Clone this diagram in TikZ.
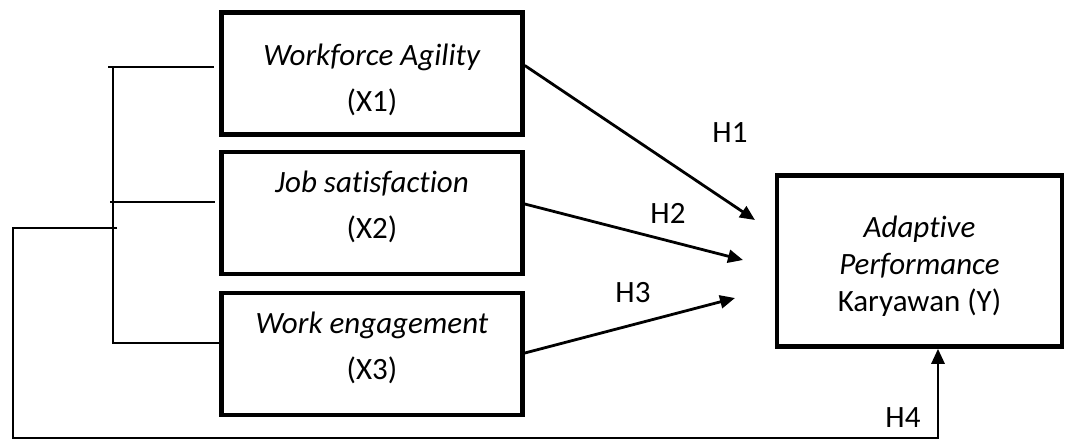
\documentclass[tikz,border=0pt]{standalone}
\usepackage{fontspec}
\setmainfont{Carlito}[Ligatures=CommonOff]
\usetikzlibrary{arrows.meta}

\begin{document}
\begin{tikzpicture}[x=0.5pt,y=-0.5pt,
  varbox/.style={draw,line width=2.3pt,minimum width=150.5pt,minimum height=61pt,inner sep=0pt},
  vartext/.style={align=center,inner sep=0pt,font=\fontsize{15.5}{23}\selectfont},
  link/.style={line width=1.4pt},
  arrowline/.style={line width=1.4pt,-{Triangle[length=7.5pt,width=6.5pt]}},
  hlabel/.style={font=\fontsize{15.5}{18}\selectfont}]
  \useasboundingbox (0,0) rectangle (1067,441);
  % variables
  \node[varbox] (X1) at (372,73.5) {};
  \node[varbox] (X2) at (372,213) {};
  \node[varbox] (X3) at (372,354) {};
  \node[varbox,minimum width=142.5pt,minimum height=85.5pt] (Y) at (919.5,261) {};
  \node[vartext] (X1t) at ([yshift=-3pt]X1.center) {\textit{Workforce Agility}\\(X1)};
  \node[vartext] (X2t) at ([yshift=3pt]X2.center) {\textit{Job satisfaction}\\(X2)};
  \node[vartext] (X3t) at ([yshift=3pt]X3.center) {\textit{Work engagement}\\(X3)};
  \node[vartext,font=\fontsize{15.5}{18.5}\selectfont] (Yt) at ([yshift=-2.5pt]Y.center) {\textit{Adaptive}\\\textit{Performance}\\Karyawan (Y)};
  % bracket on the left
  \coordinate (j0) at (113,67);
  \coordinate (j1) at (108,67);
  \coordinate (j2) at (110,202);
  \coordinate (j3) at (113,343);
  \coordinate (m1) at (117,228);
  \coordinate (m2) at (13,228);
  \coordinate (m3) at (13,438);
  \coordinate (m4) at (938,438);
  \draw[link,shorten >=2.5pt] (j1) -- (j1 -| X1.west);
  \draw[link,shorten >=2pt] (j2) -- (j2 -| X2.west);
  \draw[link] (j0) -- (j3) -- (j3 -| X3.west);
  \draw[arrowline] (m1) -- (m2) -- (m3) -- (m4) -- (m4 |- Y.south);
  % hypotheses
  \coordinate (t1) at (755,220);
  \coordinate (t2) at (743,260);
  \coordinate (t3) at (735,298);
  \draw[arrowline] ([yshift=4pt]X1.east) -- (t1);
  \draw[arrowline] ([yshift=4.5pt]X2.east) -- (t2);
  \draw[arrowline] ([yshift=0.5pt]X3.east) -- (t3);
  \node[hlabel] (h1) at (730,133) {H1};
  \node[hlabel] (h2) at (668,213) {H2};
  \node[hlabel] (h3) at (633,293) {H3};
  \node[hlabel] (h4) at (903,418) {H4};
\end{tikzpicture}
\end{document}
